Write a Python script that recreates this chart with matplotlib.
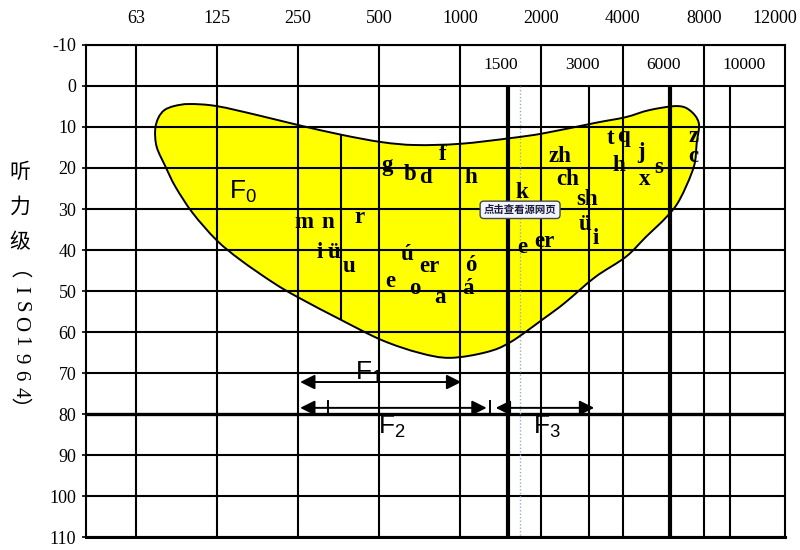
import numpy as np
import matplotlib
matplotlib.use('Agg')
import matplotlib.pyplot as plt
from matplotlib.patches import PathPatch
from matplotlib.path import Path
from matplotlib.ticker import NullLocator, FixedLocator, FixedFormatter

plt.rcParams['mathtext.fontset'] = 'custom'
plt.rcParams['mathtext.rm'] = 'Liberation Sans'
plt.rcParams['mathtext.it'] = 'Liberation Sans'

# ---------------- data ----------------
db_ticks = list(range(-10, 111, 10))
octave_freqs = [63, 125, 250, 500, 1000, 2000, 4000, 8000]
top_labels = ['63', '125', '250', '500', '1000', '2000', '4000', '8000', '12000']
top_label_freqs = [63, 125, 250, 500, 1000, 2000, 4000, 8000, 14700]
half_freqs = [1500, 3000, 6000, 10000]
half_labels = ['1500', '3000', '6000', '10000']
half_label_freqs = [1414, 2828, 5657, 11300]
thick_freqs = [1500, 6000]
thick_db = [80]
inner_freq = 363
marker_freq = 1667

banana_freq = [74, 76, 80, 87, 99, 125, 177, 250, 363, 513, 683, 1000, 1542, 2053,
               3165, 4106, 5011, 6331, 7086, 7660, 7528, 7336, 6498, 5806, 4882,
               4106, 3165, 2441, 2053, 1542, 1253, 917, 707, 513, 363, 250, 203,
               153, 125, 102, 88, 81, 75]
banana_db = [10.7, 7.8, 5.9, 4.9, 4.4, 4.9, 7.1, 9.5, 11.9, 13.7, 14.4, 14.1, 12.7,
             11.5, 9.0, 7.6, 5.9, 4.9, 5.9, 9.0, 13.9, 19.8, 27.8, 32.0, 36.8,
             41.7, 46.6, 52.9, 56.6, 62.4, 64.9, 66.3, 65.1, 62.0, 57.1, 51.5,
             48.0, 42.4, 37.6, 31.0, 24.6, 19.8, 14.9]

phoneme_text = ['g', 'b', 'd', 'f', 'h', 'm', 'n', 'r', 'i', 'ü', 'u', 'ú', 'er', 'ó',
                'e', 'o', 'a', 'á', 'k', 'e', 'er', 'zh', 'ch', 'sh', 'ü', 'i',
                't', 'q', 'h', 'j', 'x', 's', 'z', 'c']
phoneme_freq = [536, 654, 745, 863, 1091, 263, 324, 424, 300, 342, 386, 637, 771, 1091,
                550, 677, 841, 1072, 1696, 1696, 2053, 2338, 2505, 2954, 2903, 3165,
                3605, 4035, 3864, 4676, 4841, 5464, 7336, 7336]
phoneme_db = [19.3, 21.7, 22.2, 16.8, 22.2, 33.2, 33.2, 32.0, 40.5, 40.5, 44.1, 41.2,
              44.1, 43.7, 47.8, 49.3, 51.5, 49.3, 25.9, 39.3, 38.0, 17.3, 22.9, 27.8,
              33.9, 37.1, 12.7, 12.4, 19.3, 16.3, 22.9, 19.8, 12.4, 17.3]

formant_names = ['1', '2', '3']
formant_lo = [255, 255, 1354]
formant_hi = [1009, 1253, 3138]
formant_db = [72.2, 78.5, 78.5]
formant_label_freq = [459, 560, 2088]
formant_label_db = [70.0, 83.2, 83.2]
f2_tick_freqs = [324, 1286]

f0_freq = 157
f0_db = 25.9

ylabel_cjk = '听力级'
ylabel_latin = 'ISO1964'
ylabel_open, ylabel_close = '︵', '︶'   # vertical-form full-width brackets
watermark = '点击查看源网页'
# --------------------------------------


def smooth_closed_path(freqs, dbs):
    """Closed Bezier path through the outline vertices (in log-frequency space)."""
    u = np.log10(np.asarray(freqs, float))
    v = np.asarray(dbs, float)
    P = np.column_stack([u, v])
    n = len(P)
    verts = [P[0]]
    codes = [Path.MOVETO]
    for i in range(n):
        p0, p1, p2, p3 = P[i - 1], P[i], P[(i + 1) % n], P[(i + 2) % n]
        c1 = p1 + (p2 - p0) / 6.0
        c2 = p2 - (p3 - p1) / 6.0
        verts += [c1, c2, p2]
        codes += [Path.CURVE4] * 3
    verts = np.array(verts)
    verts[:, 0] = 10 ** verts[:, 0]
    return Path(verts, codes)


fig = plt.figure(figsize=(8, 5.5), dpi=100)
ax = fig.add_axes([0.1075, 0.0236, 0.8738, 0.8946])
ax.set_xscale('log')
ax.set_xlim(41, 16000)
ax.set_ylim(110, -10)

bpath = smooth_closed_path(banana_freq, banana_db)
fill = PathPatch(bpath, facecolor='#FFFF00', edgecolor='none', zorder=1)
ax.add_patch(fill)
outline = PathPatch(bpath, facecolor='none', edgecolor='black', lw=1.4, zorder=4)
ax.add_patch(outline)

# grid
for d in db_ticks:
    ax.axhline(d, color='black', lw=2.4 if d in thick_db else 1.5, zorder=2)
for f in octave_freqs:
    ax.axvline(f, color='black', lw=1.5, zorder=2)
for f in half_freqs:
    ax.plot([f, f], [0, 110], color='black',
            lw=3.0 if f in thick_freqs else 1.5, zorder=2, solid_capstyle='butt')
inner, = ax.plot([inner_freq, inner_freq], [-10, 110], color='black', lw=1.5, zorder=2)
inner.set_clip_path(fill)
ax.plot([marker_freq, marker_freq], [0, 110], color='#9aaac4', lw=1.0,
        linestyle=(0, (1, 1.5)), zorder=2)

for sp in ax.spines.values():
    sp.set_linewidth(1.5)
    sp.set_zorder(5)
ax.spines['bottom'].set_linewidth(2.2)

# ticks
ax.xaxis.set_ticks_position('top')
ax.xaxis.set_major_locator(FixedLocator(top_label_freqs))
ax.xaxis.set_major_formatter(FixedFormatter(top_labels))
ax.xaxis.set_minor_locator(NullLocator())
ax.tick_params(axis='x', length=0, pad=13, labelsize=13)
for lab in ax.get_xticklabels():
    lab.set_fontfamily('Liberation Serif')
ax.set_yticks(db_ticks)
ax.set_yticklabels([str(d) for d in db_ticks])
ax.tick_params(axis='y', length=3, width=1.2, pad=4, labelsize=13)
for lab in ax.get_yticklabels():
    lab.set_fontfamily('Liberation Serif')

for t, f in zip(half_labels, half_label_freqs):
    ax.text(f, -5, t, ha='center', va='center', fontsize=12.5,
            family='Liberation Serif', zorder=6)

# phonemes
for t, f, d in zip(phoneme_text, phoneme_freq, phoneme_db):
    ax.text(f, d, t, ha='center', va='center', fontsize=16.5, fontweight='bold',
            family='Liberation Serif', zorder=6)

ax.text(f0_freq, f0_db, r'F$_\mathregular{0}$', ha='center', va='center',
        fontsize=19, family='Liberation Sans', zorder=6)

# formant arrows
for lo, hi, d in zip(formant_lo, formant_hi, formant_db):
    ax.annotate('', xy=(hi, d), xytext=(lo, d),
                arrowprops=dict(arrowstyle='<|-|>', color='black', lw=1.4,
                                mutation_scale=22, shrinkA=0, shrinkB=0),
                zorder=6)
for f in f2_tick_freqs:
    ax.plot([f, f], [76.8, 80.0], color='black', lw=1.4, zorder=6)
for n, f, d in zip(formant_names, formant_label_freq, formant_label_db):
    ax.text(f, d, r'F$_\mathregular{%s}$' % n, ha='center', va='center',
            fontsize=19, family='Liberation Sans', zorder=6)

# watermark button
ax.text(marker_freq, 30.2, watermark, ha='center', va='center', fontsize=7.5,
        fontweight='bold', family=['Noto Sans CJK SC', 'DejaVu Sans'], color='#1c1c3a',
        bbox=dict(boxstyle='round,pad=0.35', fc='#f2f5ff', ec='#44465e', lw=1.0),
        zorder=7)

# y label (vertical East-Asian style: CJK upright, Latin rotated)
cjk_y = np.linspace(1 - 172 / 550, 1 - 242 / 550, len(ylabel_cjk))
for ch, yy in zip(ylabel_cjk, cjk_y):
    fig.text(0.025, yy, ch, ha='center', va='center', fontsize=15,
             family=['Noto Sans CJK SC', 'DejaVu Sans'])
fig.text(0.0275, 1 - 270 / 550, ylabel_open, ha='center', va='center', fontsize=15,
         family=['Noto Sans CJK SC', 'DejaVu Sans'])
fig.text(0.0275, 1 - 410 / 550, ylabel_close, ha='center', va='center', fontsize=15,
         family=['Noto Sans CJK SC', 'DejaVu Sans'])
lat_y = np.linspace(1 - 290 / 550, 1 - 392 / 550, len(ylabel_latin))
for ch, yy in zip(ylabel_latin, lat_y):
    fig.text(0.019, yy, ch, ha='center', va='baseline', rotation=-90,
             rotation_mode='anchor', fontsize=15, family='Liberation Serif')

fig.savefig('out.png', dpi=100)
